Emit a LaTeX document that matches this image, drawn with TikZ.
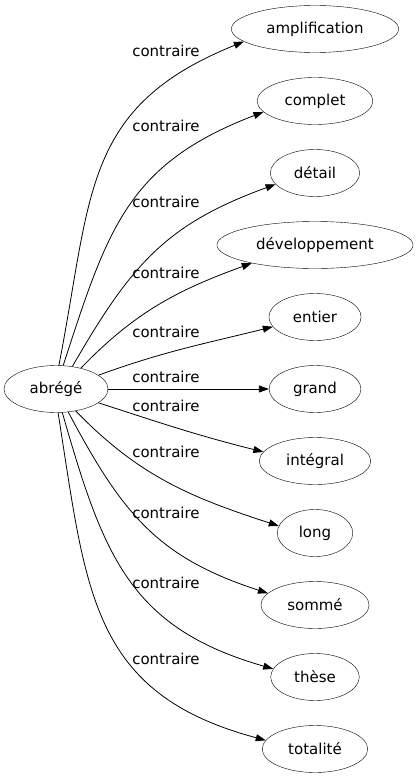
\documentclass[tikz,border=0pt]{standalone}
\usepackage{fontspec}
\setmainfont{DejaVu Sans}
\usetikzlibrary{arrows.meta, shapes.geometric}

\begin{document}
\begin{tikzpicture}[x=1pt, y=1pt,
    word/.style={draw, ellipse, inner xsep=10.5pt, minimum height=47pt,
                 font=\fontsize{15}{18}\selectfont},
    rel/.style={font=\fontsize{15}{18}\selectfont, inner sep=0pt},
    arr/.style={-{Triangle[length=10pt, width=7pt]}, line width=0.8pt}
]
\useasboundingbox (0,0) rectangle (415,-779);

\node[word] (abrege) at (56,-389) {abrégé};

\node[word] (amplification) at (315,-29) {amplification};
\node[word] (complet) at (315,-101) {complet};
\node[word] (detail) at (315,-173) {détail};
\node[word] (developpement) at (315,-245) {développement};
\node[word] (entier) at (315,-317) {entier};
\node[word] (grand) at (315,-389) {grand};
\node[word] (integral) at (315,-461) {intégral};
\node[word] (long) at (315,-533) {long};
\node[word] (somme) at (315,-605) {sommé};
\node[word] (these) at (315,-677) {thèse};
\node[word] (totalite) at (315,-749) {totalité};

\draw[arr] (abrege.83) to[out=79, in=202, looseness=1.2] (amplification.190);
\draw[arr] (abrege.73) to[out=72, in=201, looseness=1.15] (complet.192);
\draw[arr] (abrege.54) to[out=60, in=200, looseness=1.1] (detail.196);
\draw[arr] (abrege.40) to[out=46, in=200] (developpement.196);
\draw[arr] (abrege.18) to[out=20, in=194] (entier.193);
\draw[arr] (abrege) -- (grand);
\draw[arr] (abrege.-18) to[out=-18, in=166] (integral.170);
\draw[arr] (abrege.-48) to[out=-46, in=162] (long.169);
\draw[arr] (abrege.-62) to[out=-62, in=162, looseness=1.1] (somme.166);
\draw[arr] (abrege.-75) to[out=-74, in=164, looseness=1.15] (these.169);
\draw[arr] (abrege.-85) to[out=-81, in=165, looseness=1.2] (totalite.170);

% edge labels
\node[rel] (lbl1) at (166,-51) {contraire};
\node[rel] (lbl2) at (166,-126) {contraire};
\node[rel] (lbl3) at (166,-202) {contraire};
\node[rel] (lbl4) at (166,-273) {contraire};
\node[rel] (lbl5) at (166,-332) {contraire};
\node[rel] (lbl6) at (166,-377) {contraire};
\node[rel] (lbl7) at (166,-406) {contraire};
\node[rel] (lbl8) at (166,-452) {contraire};
\node[rel] (lbl9) at (166,-513) {contraire};
\node[rel] (lbl10) at (166,-583) {contraire};
\node[rel] (lbl11) at (166,-659) {contraire};
\end{tikzpicture}
\end{document}
